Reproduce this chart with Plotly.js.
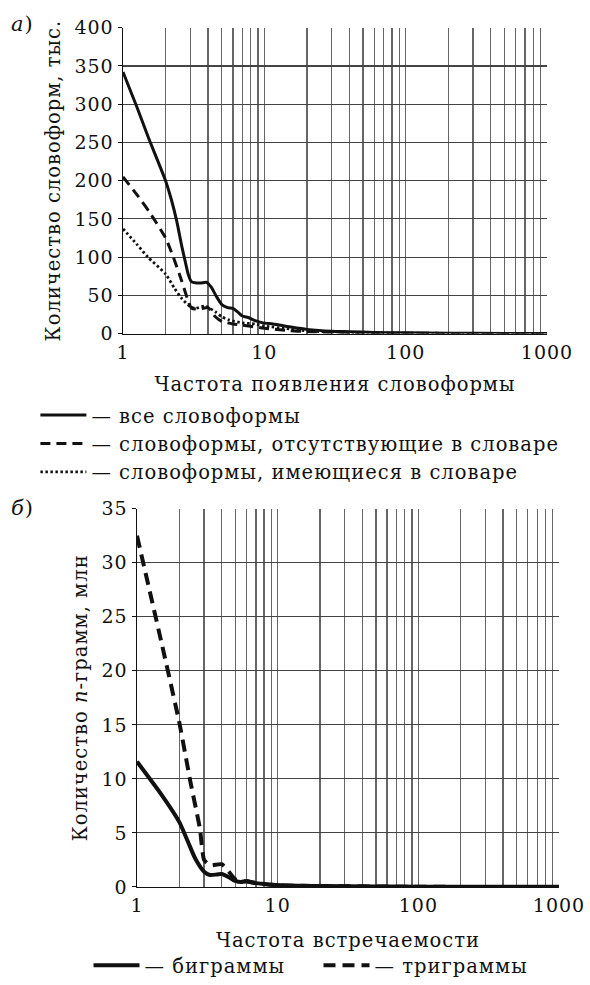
<!DOCTYPE html>
<html><head><meta charset="utf-8">
<script src="https://cdn.plot.ly/plotly-3.0.1.min.js"></script>
<style>
html,body{margin:0;padding:0;background:#fff}
text{letter-spacing:1px}
</style>
</head><body><div id="chart" style="width:590px;height:985px"></div>
<script>
// ---- Panel а: word forms (thousands) vs frequency ----
const freqAll = [1, 1.25, 1.5, 2, 2.2, 2.4, 2.6, 2.75, 2.9, 3.05, 3.5, 3.9, 4.2, 4.6, 5, 5.5, 6, 6.5, 7, 7.7, 8.6, 9.8, 11.5, 15, 20, 30, 40, 60, 100, 200, 500, 1000];
const allForms = [342, 297, 258, 200, 175, 147, 115, 95, 77, 68, 66, 67, 61, 48, 38, 34, 33, 28, 23, 21, 17, 14, 12.5, 9, 5.5, 3, 2.5, 1.5, 1, 0.5, 0.2, 0.1];

const freqAbsent = [1, 1.25, 1.55, 2, 2.27, 2.6, 2.9, 3.06, 3.5, 4, 4.5, 5, 6, 7, 8, 10, 15, 20, 30, 50, 100, 300, 1000];
const absentForms = [205, 182, 158, 125, 100, 69, 42, 33, 32, 34, 22, 16, 12.5, 11, 9.5, 7, 4, 2.5, 1.5, 0.8, 0.4, 0.15, 0.05];

const freqPresent = [1, 1.25, 1.5, 2, 2.3, 2.6, 3, 3.25, 3.8, 4.5, 5, 5.6, 7, 8.6, 10, 15, 20, 30, 50, 100, 300, 1000];
const presentForms = [137, 117, 100, 78, 60, 46, 35, 33, 36, 28.5, 22, 18, 14, 12.5, 10, 6, 3.5, 2, 1, 0.5, 0.15, 0.05];

// ---- Panel б: n-grams (millions) vs frequency ----
const freqBi = [1, 1.5, 2, 2.3, 2.6, 3, 3.3, 3.7, 4, 4.5, 5, 5.5, 6, 7, 8, 10, 20, 50, 100, 1000];
const bigrams = [11.6, 8.5, 6.0, 4.2, 2.6, 1.4, 1.1, 1.15, 1.2, 0.9, 0.55, 0.45, 0.55, 0.35, 0.28, 0.18, 0.08, 0.04, 0.02, 0.01];

const freqTri = [1, 1.5, 2, 2.4, 2.8, 3, 3.3, 4, 4.5, 5, 6, 7, 10, 100, 1000];
const trigrams = [32.5, 22.5, 15.2, 9.7, 5.4, 2.5, 2.0, 2.1, 1.4, 0.7, 0.5, 0.35, 0.15, 0.01, 0];

// ---- labels ----
const namesA = ['— все словоформы', '— словоформы, отсутствующие в словаре', '— словоформы, имеющиеся в словаре'];
const namesB = ['— биграммы', '— триграммы'];
const xTitleA = 'Частота появления словоформы';
const yTitleA = 'Количество словоформ, тыс.';
const xTitleB = 'Частота встречаемости';
const yTitleB = 'Количество <i>n</i>-грамм, млн';
const decadeLabels = ['1', '10', '100', '1000'];
const yTicksA = [0, 50, 100, 150, 200, 250, 300, 350, 400];
const yTicksB = [0, 5, 10, 15, 20, 25, 30, 35];
const panelLabels = ['<i>а</i>)', '<i>б</i>)'];

// log grid: every integer multiple within each decade, labels only on decades
const gridVals = [], gridText = [];
for (let d = 0; d < 3; d++) {
  for (let m = 1; m < 10; m++) {
    gridVals.push(m * Math.pow(10, d));
    gridText.push(m === 1 ? decadeLabels[d] : '');
  }
}
gridVals.push(1000); gridText.push(decadeLabels[3]);

const FONT = 'DejaVu Serif, Liberation Serif, serif';
const INK = '#111';
const FS = 19.5;

const traces = [
  {x: freqAll, y: allForms, name: namesA[0], type: 'scatter', mode: 'lines', xaxis: 'x', yaxis: 'y',
   line: {color: INK, width: 3, shape: 'spline', smoothing: 0.6}, legend: 'legend', legendgroup: 'a1'},
  {x: freqAbsent, y: absentForms, name: namesA[1], type: 'scatter', mode: 'lines', xaxis: 'x', yaxis: 'y',
   line: {color: INK, width: 3, dash: '10px,6px', shape: 'spline', smoothing: 0.6}, legend: 'legend', legendgroup: 'a2'},
  {x: freqPresent, y: presentForms, name: namesA[2], type: 'scatter', mode: 'lines', xaxis: 'x', yaxis: 'y',
   line: {color: INK, width: 2.8, dash: '2.5px,2.5px', shape: 'spline', smoothing: 0.6}, legend: 'legend', legendgroup: 'a3'},
  {x: freqBi, y: bigrams, name: namesB[0], type: 'scatter', mode: 'lines', xaxis: 'x2', yaxis: 'y2',
   line: {color: INK, width: 4, shape: 'spline', smoothing: 0.6}, legend: 'legend2'},
  {x: freqTri, y: trigrams, name: namesB[1], type: 'scatter', mode: 'lines', xaxis: 'x2', yaxis: 'y2',
   line: {color: INK, width: 4, dash: '12px,7px', shape: 'spline', smoothing: 0.5}, legend: 'legend2'}
];

function xAxis(domain, anchor, title, standoff) {
  return {type: 'log', range: [0, 3], domain: domain, anchor: anchor,
    tickmode: 'array', tickvals: gridVals, ticktext: gridText,
    showgrid: true, gridcolor: '#666', gridwidth: 1.3, zeroline: false,
    showline: true, linecolor: INK, linewidth: 1.5, ticks: '',
    tickfont: {size: 19, color: INK}, ticklabelstandoff: 1,
    title: {text: title, font: {size: FS, color: INK}, standoff: standoff},
    automargin: false, fixedrange: true};
}
function yAxis(domain, anchor, range, vals, title, standoff) {
  return {range: range, domain: domain, anchor: anchor,
    tickmode: 'array', tickvals: vals, ticktext: vals.map(String),
    showgrid: true, gridcolor: '#444', gridwidth: 1.2, zeroline: false,
    showline: true, linecolor: INK, linewidth: 1.5, ticks: 'outside', ticklen: 4, tickcolor: INK,
    tickfont: {size: 19, color: INK},
    title: {text: title, font: {size: FS, color: INK}, standoff: standoff},
    automargin: false, fixedrange: true};
}

const H = 985, W = 590;
const layout = {
  width: W, height: H, margin: {l: 0, r: 0, t: 0, b: 0},
  paper_bgcolor: '#fff', plot_bgcolor: '#fff',
  font: {family: FONT, size: FS, color: INK},
  xaxis: xAxis([123 / W, 547 / W], 'y', xTitleA, 15),
  yaxis: yAxis([1 - 337 / H, 1 - 28 / H], 'x', [0, 400], yTicksA, yTitleA, 8),
  xaxis2: xAxis([137 / W, 559 / W], 'y2', xTitleB, 18),
  yaxis2: yAxis([1 - 896 / H, 1 - 514 / H], 'x2', [0, 35], yTicksB, yTitleB, 8),
  showlegend: true,
  legend: {x: 0.06, y: 1 - 400 / H, xanchor: 'left', yanchor: 'top', orientation: 'v',
    itemwidth: 46, traceorder: 'grouped', tracegroupgap: 0, font: {size: FS, color: INK},
    bgcolor: 'rgba(0,0,0,0)'},
  legend2: {x: 0.15, y: 1 - 956 / H, xanchor: 'left', yanchor: 'top', orientation: 'h',
    itemwidth: 46, entrywidth: 169, font: {size: FS, color: INK}, bgcolor: 'rgba(0,0,0,0)'},
  annotations: [
    {text: panelLabels[0], xref: 'paper', yref: 'paper', x: 22 / W, y: 1 - 24 / H, xanchor: 'center', yanchor: 'middle',
     showarrow: false, font: {size: 21, color: INK}},
    {text: panelLabels[1], xref: 'paper', yref: 'paper', x: 22 / W, y: 1 - 513 / H, xanchor: 'center', yanchor: 'middle',
     showarrow: false, font: {size: 21, color: INK}}
  ]
};

Plotly.newPlot('chart', traces, layout, {staticPlot: true, displayModeBar: false});
</script>
</body></html>
